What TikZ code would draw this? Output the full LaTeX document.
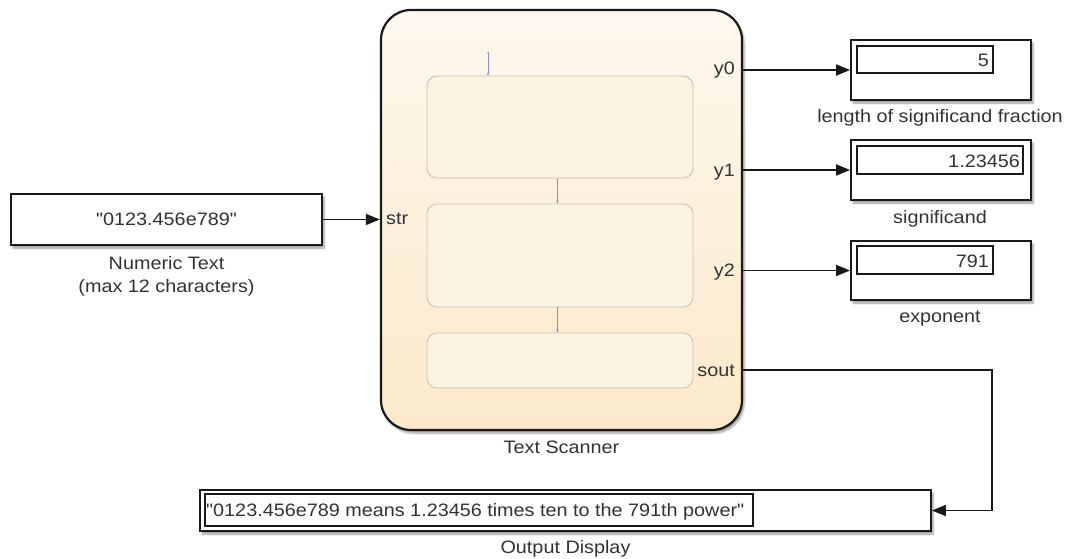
\documentclass[tikz,border=0pt]{standalone}
\usepackage{fontspec}
\setmainfont{Liberation Sans}[FakeStretch=1.1, Ligatures=TeXOff]
\usetikzlibrary{arrows.meta,shadows.blur}
\definecolor{txt}{RGB}{50,50,50}
\definecolor{edge}{RGB}{25,25,25}
\definecolor{sctop}{RGB}{253,248,238}
\definecolor{scbot}{RGB}{252,233,202}
\definecolor{stfill}{RGB}{253,243,225}
\definecolor{stedge}{RGB}{200,190,172}
\definecolor{trans}{RGB}{140,140,200}
\begin{document}
\begin{tikzpicture}[x=1pt,y=-1pt,
  lbl/.style={font=\fontsize{18}{23}\selectfont, text=txt, inner sep=0pt},
  shad/.style={blur shadow={shadow xshift=2pt, shadow yshift=-3pt, shadow blur steps=6, shadow opacity=40}},
  blk/.style={draw=edge, line width=1.8pt, fill=white, inner sep=0pt, shad},
  inbox/.style={draw=edge, line width=1.4pt, fill=white, inner sep=0pt},
  statebox/.style={draw=stedge, line width=0.8pt, fill=stfill, rounded corners=10pt, inner sep=0pt, minimum width=266pt},
  sig/.style={draw=edge, line width=1.6pt, -{Triangle[length=14pt,width=11pt]}},
  tr/.style={draw=trans, line width=0.7pt, -{Stealth[length=3pt,width=2.5pt]}}
]
\useasboundingbox (0,0) rectangle (1065,559);
% source block
\node[blk, minimum width=311pt, minimum height=51pt] (num) at (166.5,219.5) {};
\node[lbl, anchor=base] (numv) at (166.5,225) {"0123.456e789"};
\node[lbl, anchor=base] (numl1) at (166.5,269) {Numeric Text};
\node[lbl, anchor=base] (numl2) at (166.5,292) {(max 12 characters)};
% chart block
\node[draw=edge, line width=2.2pt, rounded corners=30pt, top color=sctop, bottom color=scbot,
      minimum width=361pt, minimum height=420pt, inner sep=0pt, shad] (sc) at (561.5,220) {};
\node[statebox, minimum height=102pt] (st1) at (560,127) {};
\node[statebox, minimum height=103pt] (st2) at (560,255.5) {};
\node[statebox, minimum height=55pt] (st3) at (560,360.5) {};
\coordinate (dflt) at (488,53);
\fill[trans] (dflt) circle (1pt);
\draw[tr] (dflt) -- (dflt |- st1.north);
\draw[tr] ([xshift=-2.5pt]st1.south) -- ([xshift=-2.5pt]st2.north);
\draw[tr] ([xshift=-2.5pt]st2.south) -- ([xshift=-2.5pt]st3.north);
\node[lbl, anchor=base] (scl) at (561.5,453) {Text Scanner};
% ports
\node[lbl, anchor=base west] (pstr) at (386,224) {str};
\node[lbl, anchor=base east] (py0) at (735,75) {y0};
\node[lbl, anchor=base east] (py1) at (735,176) {y1};
\node[lbl, anchor=base east] (py2) at (735,276) {y2};
\node[lbl, anchor=base east] (psout) at (735,376) {sout};
% displays
\node[blk, minimum width=180pt, minimum height=60pt] (d1) at (941,70) {};
\node[inbox, minimum width=136pt, minimum height=27pt] (d1i) at (925,59.5) {};
\node[lbl, anchor=base east] (v1) at (989,67) {5};
\node[lbl, anchor=base] (l1) at (940,123) {length of significand fraction};
\node[blk, minimum width=180pt, minimum height=60pt] (d2) at (941,170) {};
\node[inbox, minimum width=166pt, minimum height=28pt] (d2i) at (940,160) {};
\node[lbl, anchor=base east] (v2) at (1020,167) {1.23456};
\node[lbl, anchor=base] (l2) at (940,223) {significand};
\node[blk, minimum width=180pt, minimum height=59pt] (d3) at (941,270.5) {};
\node[inbox, minimum width=136pt, minimum height=28pt] (d3i) at (925,260) {};
\node[lbl, anchor=base east] (v3) at (989,267) {791};
\node[lbl, anchor=base] (l3) at (940,322) {exponent};
% output display
\node[blk, minimum width=731pt, minimum height=41pt] (out) at (565.5,510.5) {};
\node[inbox, minimum width=548pt, minimum height=32pt] (outi) at (479,510) {};
\node[lbl, anchor=base west] (outv) at (206,516) {"0123.456e789 means 1.23456 times ten to the 791th power"};
\node[lbl, anchor=base] (outl) at (565.5,553) {Output Display};
% signals
\draw[sig] (num.east) -- (num.east -| sc.west);
\draw[sig] (d1.west -| sc.east) -- (d1.west);
\draw[sig] (d2.west -| sc.east) -- (d2.west);
\draw[sig] (d3.west -| sc.east) -- (d3.west);
\coordinate (sout) at ([yshift=-150pt]sc.east);
\coordinate (corner) at (992,370);
\draw[sig] (sout) -- (corner) |- (out.east);
\end{tikzpicture}
\end{document}
